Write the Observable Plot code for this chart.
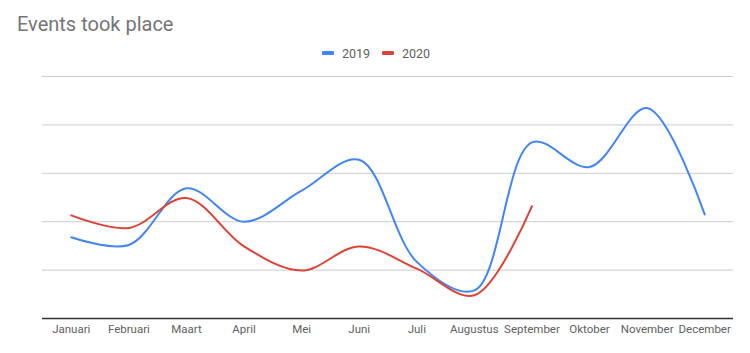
<!DOCTYPE html>
<html>
<head>
<meta charset="utf-8">
<script src="https://cdn.jsdelivr.net/npm/d3@7"></script>
<script src="https://cdn.jsdelivr.net/npm/@observablehq/plot@0.6"></script>
<style>
  html, body { margin: 0; padding: 0; background: #fff; }
  body { width: 750px; height: 353px; overflow: hidden; font-family: Roboto, Arial, sans-serif; }
  #header { position: relative; height: 66px; }
  #title { position: absolute; left: 17px; top: 11px; font-size: 20px; color: #757575; line-height: 26px; }
  #legend { position: absolute; left: 0; top: 44px; width: 750px; height: 18px; font-size: 12.5px; color: #616161; }
  .item { position: absolute; top: 0; display: flex; align-items: center; height: 18px; }
  .swatch { width: 12px; height: 4px; border-radius: 1px; margin-right: 8px; }
  #chart svg { display: block; }
</style>
</head>
<body>
<div id="header">
  <div id="title">Events took place</div>
  <div id="legend"></div>
</div>
<div id="chart"></div>
<script>
const months = ["Januari","Februari","Maart","April","Mei","Juni","Juli","Augustus","September","Oktober","November","December"];
const series = ["2019", "2020"];
const colors = ["#4285F4", "#DB4437"];
const values2019 = [16.8, 15.2, 26.9, 20.0, 26.4, 32.8, 11.7, 5.8, 36.4, 31.3, 43.5, 21.5];
const values2020 = [21.3, 18.7, 24.9, 14.9, 9.9, 14.9, 10.3, 4.8, 23.2];
const gridValues = [0, 10, 20, 30, 40, 50];

const data = [
  ...values2019.map((v, i) => ({month: months[i], value: v, series: series[0]})),
  ...values2020.map((v, i) => ({month: months[i], value: v, series: series[1]}))
];

// legend
const legend = document.getElementById("legend");
const legendX = [322, 382];
series.forEach((s, i) => {
  const item = document.createElement("div");
  item.className = "item";
  item.style.left = legendX[i] + "px";
  const sw = document.createElement("div");
  sw.className = "swatch";
  sw.style.background = colors[i];
  const tx = document.createElement("span");
  tx.textContent = s;
  item.appendChild(sw);
  item.appendChild(tx);
  legend.appendChild(item);
});

const chart = Plot.plot({
  width: 750,
  height: 287,
  marginTop: 10,
  marginBottom: 35,
  marginLeft: 42,
  marginRight: 17,
  style: {fontFamily: "Roboto, Arial, sans-serif", fontSize: "11.5px", color: "#616161", background: "#fff"},
  x: {type: "point", domain: months, padding: 0.5, round: false, label: null, tickSize: 0, tickPadding: 6},
  y: {domain: [0, 50], axis: null},
  color: {domain: series, range: colors},
  marks: [
    Plot.ruleY(gridValues.filter(d => d > 0), {stroke: "#cccccc", strokeWidth: 1}),
    Plot.ruleY([0], {stroke: "#333333", strokeWidth: 1.3}),
    Plot.axisX({tickSize: 0, tickPadding: 6, fill: "#616161", fontSize: 11.5}),
    Plot.line(data, {x: "month", y: "value", z: "series", stroke: "series", strokeWidth: 2, curve: "catmull-rom"})
  ]
});
document.getElementById("chart").appendChild(chart);
</script>
</body>
</html>
